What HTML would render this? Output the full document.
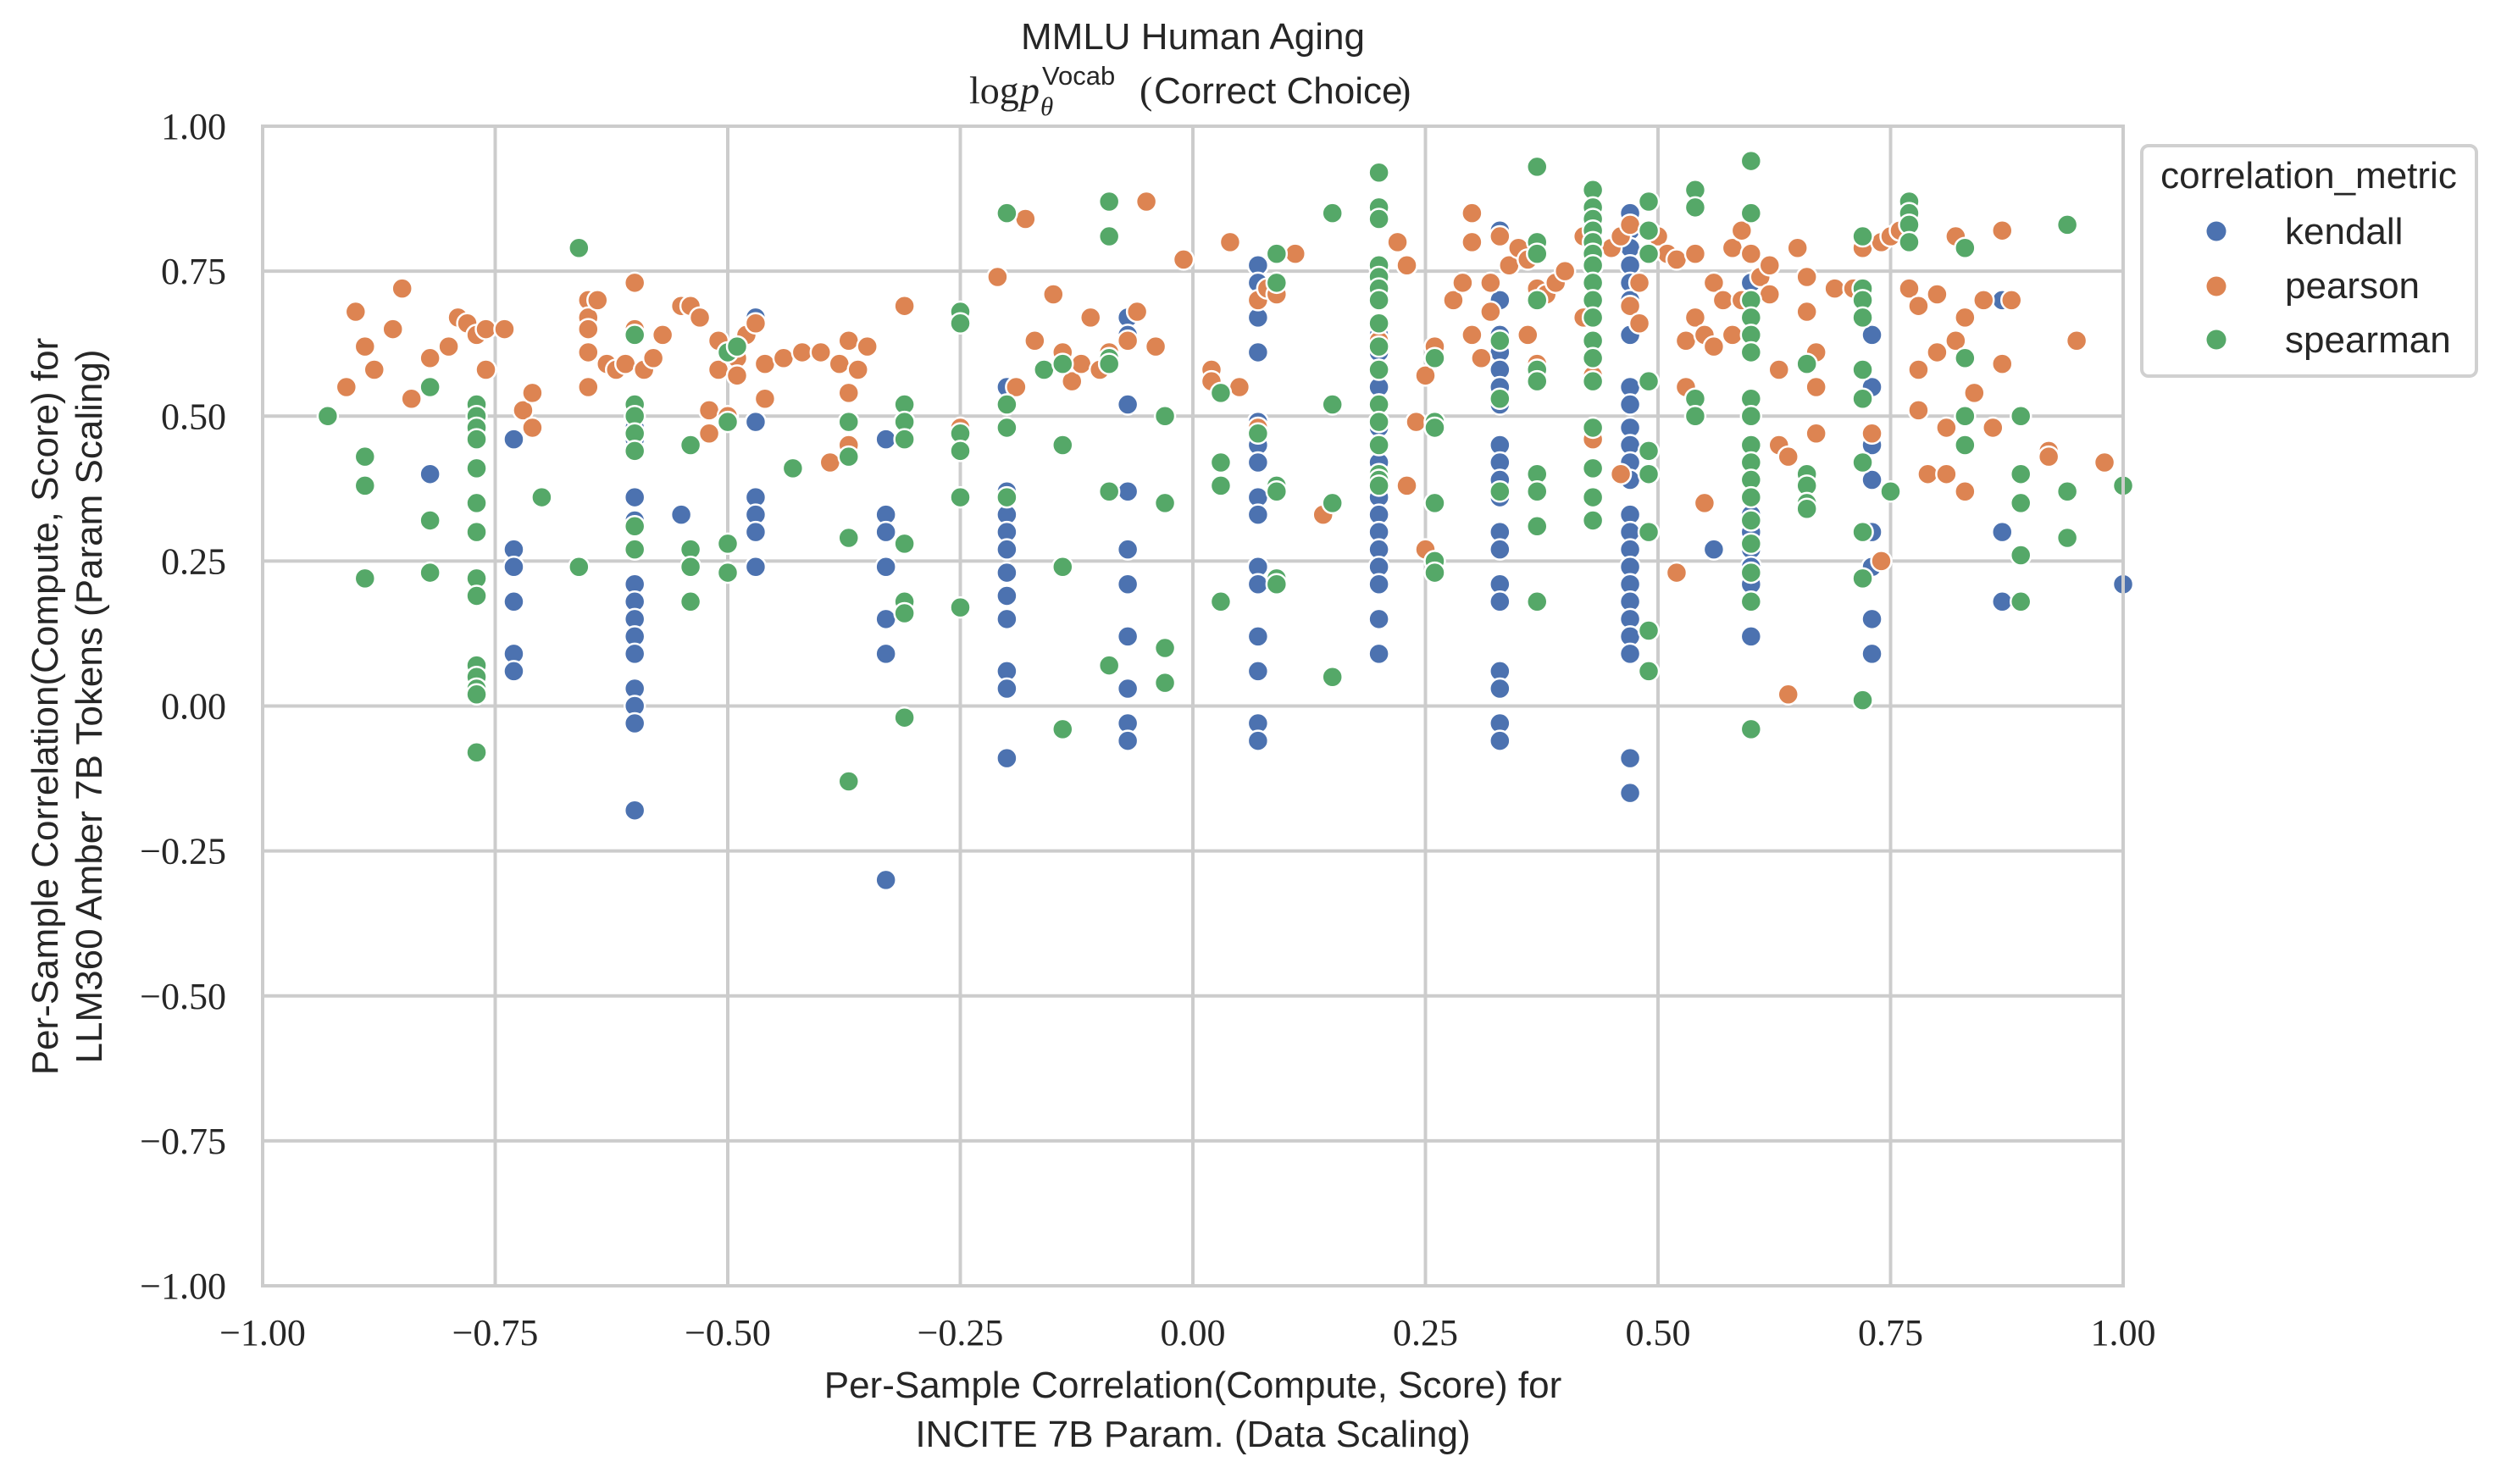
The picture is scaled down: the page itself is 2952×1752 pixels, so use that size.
<!DOCTYPE html>
<html><head><meta charset="utf-8"><style>
html,body{margin:0;padding:0;background:#fff;width:2952px;height:1752px;overflow:hidden}
svg{display:block}
.tick{font-family:"Liberation Serif",serif;font-size:44px;fill:#262626}
.lab{font-family:"Liberation Sans",sans-serif;font-size:44px;fill:#262626}
</style></head><body>
<svg id="chart" width="2952" height="1752" xmlns="http://www.w3.org/2000/svg">
<g id="grid"></g>
<g id="marks"></g>
<g id="axes"></g>
<text class="lab" x="1408" y="58" text-anchor="middle">MMLU Human Aging</text>
<g style="fill:#262626">
<text x="1144" y="122" style="font-family:'Liberation Serif',serif;font-size:46px">log</text>
<text x="1204" y="122" style="font-family:'Liberation Serif',serif;font-style:italic;font-size:46px">p</text>
<text x="1230" y="100" style="font-family:'Liberation Sans',sans-serif;font-size:31px">Vocab</text>
<text x="1228" y="136" style="font-family:'Liberation Serif',serif;font-style:italic;font-size:31px">θ</text>
<text x="1345" y="122" style="font-family:'Liberation Serif',serif;font-size:46px">(</text>
<text x="1362" y="122" style="font-family:'Liberation Sans',sans-serif;font-size:44px">Correct Choice</text>
<text x="1650" y="122" style="font-family:'Liberation Serif',serif;font-size:46px">)</text>
</g>
<text class="lab" x="1408" y="1650" text-anchor="middle">Per-Sample Correlation(Compute, Score) for</text>
<text class="lab" x="1408" y="1708" text-anchor="middle">INCITE 7B Param. (Data Scaling)</text>
<text class="lab" transform="translate(68,834) rotate(-90)" text-anchor="middle">Per-Sample Correlation(Compute, Score) for</text>
<text class="lab" transform="translate(120,834) rotate(-90)" text-anchor="middle">LLM360 Amber 7B Tokens (Param Scaling)</text>
<g>
<rect x="2528" y="172" width="395" height="272" rx="8" fill="#fff" stroke="#d0d0d0" stroke-width="4"/>
<text class="lab" x="2725" y="222" text-anchor="middle">correlation_metric</text>
<circle cx="2616" cy="273" r="11.5" fill="#4c72b0"/>
<text class="lab" x="2697" y="288">kendall</text>
<circle cx="2616" cy="338" r="11.5" fill="#dd8452"/>
<text class="lab" x="2697" y="352">pearson</text>
<circle cx="2616" cy="401" r="11.5" fill="#55a868"/>
<text class="lab" x="2697" y="416">spearman</text>
</g>
</svg>
<script>
const xTicks=[-1,-0.75,-0.5,-0.25,0,0.25,0.5,0.75,1];
const yTicks=[-1,-0.75,-0.5,-0.25,0,0.25,0.5,0.75,1];
const kendall=[[-0.82,0.40],[-0.73,0.46],[-0.73,0.27],[-0.73,0.24],[-0.73,0.18],[-0.73,0.09],[-0.73,0.06],
[-0.60,0.48],[-0.60,0.46],[-0.60,0.44],[-0.60,0.36],[-0.60,0.32],[-0.60,0.27],[-0.60,0.21],[-0.60,0.18],[-0.60,0.15],[-0.60,0.12],[-0.60,0.09],[-0.60,0.03],[-0.60,0.00],[-0.60,-0.03],[-0.60,-0.18],
[-0.55,0.33],[-0.47,0.67],[-0.47,0.49],[-0.47,0.36],[-0.47,0.33],[-0.47,0.30],[-0.47,0.24],
[-0.33,0.46],[-0.33,0.33],[-0.33,0.30],[-0.33,0.24],[-0.33,0.15],[-0.33,0.09],[-0.33,-0.30],
[-0.20,0.55],[-0.20,0.52],[-0.20,0.37],[-0.20,0.33],[-0.20,0.30],[-0.20,0.27],[-0.20,0.23],[-0.20,0.19],[-0.20,0.15],[-0.20,0.06],[-0.20,0.03],[-0.20,-0.09],
[-0.07,0.67],[-0.07,0.64],[-0.07,0.52],[-0.07,0.37],[-0.07,0.27],[-0.07,0.21],[-0.07,0.12],[-0.07,0.03],[-0.07,-0.03],[-0.07,-0.06],
[0.07,0.76],[0.07,0.73],[0.07,0.67],[0.07,0.61],[0.07,0.49],[0.07,0.45],[0.07,0.42],[0.07,0.36],[0.07,0.33],[0.07,0.24],[0.07,0.21],[0.07,0.12],[0.07,0.06],[0.07,-0.03],[0.07,-0.06],
[0.20,0.64],[0.20,0.61],[0.20,0.58],[0.20,0.55],[0.20,0.52],[0.20,0.48],[0.20,0.45],[0.20,0.42],[0.20,0.39],[0.20,0.36],[0.20,0.33],[0.20,0.30],[0.20,0.27],[0.20,0.24],[0.20,0.21],[0.20,0.15],[0.20,0.09],
[0.33,0.82],[0.33,0.70],[0.33,0.64],[0.33,0.61],[0.33,0.58],[0.33,0.55],[0.33,0.52],[0.33,0.45],[0.33,0.42],[0.33,0.39],[0.33,0.36],[0.33,0.30],[0.33,0.27],[0.33,0.21],[0.33,0.18],[0.33,0.06],[0.33,0.03],[0.33,-0.03],[0.33,-0.06],
[0.43,0.79],[0.43,0.73],[0.43,0.67],
[0.47,0.85],[0.47,0.82],[0.47,0.79],[0.47,0.76],[0.47,0.73],[0.47,0.70],[0.47,0.64],[0.47,0.55],[0.47,0.52],[0.47,0.48],[0.47,0.45],[0.47,0.42],[0.47,0.39],[0.47,0.33],[0.47,0.30],[0.47,0.27],[0.47,0.24],[0.47,0.21],[0.47,0.18],[0.47,0.15],[0.47,0.12],[0.47,0.09],[0.47,-0.09],[0.47,-0.15],
[0.56,0.27],
[0.60,0.73],[0.60,0.70],[0.60,0.64],[0.60,0.45],[0.60,0.42],[0.60,0.36],[0.60,0.33],[0.60,0.30],[0.60,0.27],[0.60,0.24],[0.60,0.21],[0.60,0.12],
[0.73,0.64],[0.73,0.55],[0.73,0.45],[0.73,0.39],[0.73,0.30],[0.73,0.24],[0.73,0.15],[0.73,0.09],
[0.87,0.70],[0.87,0.30],[0.87,0.18],[1.00,0.21]];
const pearson=[[-0.91,0.55],[-0.90,0.68],[-0.89,0.62],[-0.88,0.58],[-0.86,0.65],[-0.85,0.72],[-0.84,0.53],[-0.82,0.60],[-0.80,0.62],[-0.79,0.67],[-0.78,0.66],[-0.77,0.64],[-0.76,0.58],[-0.76,0.65],[-0.74,0.65],[-0.72,0.51],[-0.71,0.54],[-0.71,0.48],
[-0.65,0.70],[-0.65,0.67],[-0.65,0.65],[-0.65,0.61],[-0.65,0.55],[-0.64,0.70],[-0.63,0.59],[-0.62,0.58],[-0.61,0.59],[-0.60,0.65],[-0.60,0.73],[-0.59,0.58],[-0.58,0.60],[-0.57,0.64],[-0.55,0.69],[-0.54,0.69],[-0.53,0.67],[-0.52,0.47],[-0.52,0.51],[-0.51,0.63],[-0.51,0.58],[-0.50,0.50],[-0.49,0.60],[-0.49,0.57],[-0.48,0.64],[-0.47,0.66],[-0.46,0.59],[-0.46,0.53],[-0.44,0.60],[-0.42,0.61],[-0.40,0.61],[-0.39,0.42],[-0.38,0.59],[-0.37,0.63],[-0.37,0.54],[-0.36,0.58],[-0.35,0.62],[-0.37,0.45],[-0.31,0.69],[-0.25,0.48],
[-0.21,0.74],[-0.19,0.55],[-0.18,0.84],[-0.17,0.63],[-0.15,0.71],[-0.14,0.61],[-0.13,0.56],[-0.12,0.59],[-0.11,0.67],[-0.10,0.58],[-0.09,0.61],[-0.07,0.63],[-0.06,0.68],[-0.04,0.62],[-0.05,0.87],[-0.01,0.77],[0.02,0.58],[0.02,0.56],[0.04,0.80],[0.05,0.55],[0.07,0.70],[0.07,0.48],[0.08,0.72],[0.09,0.71],[0.11,0.78],[0.14,0.33],[0.20,0.76],[0.20,0.63],[0.22,0.80],[0.23,0.76],[0.24,0.49],[0.25,0.57],[0.23,0.38],[0.25,0.27],[0.26,0.62],
[0.28,0.70],[0.29,0.73],[0.30,0.85],[0.30,0.80],[0.30,0.64],[0.31,0.60],[0.32,0.73],[0.32,0.68],[0.33,0.81],[0.34,0.76],[0.35,0.79],[0.36,0.64],[0.36,0.77],[0.37,0.72],[0.37,0.59],[0.38,0.71],[0.39,0.73],[0.40,0.75],[0.42,0.67],[0.42,0.81],[0.43,0.57],[0.43,0.46],[0.45,0.79],[0.46,0.81],[0.47,0.69],[0.47,0.83],[0.48,0.73],[0.48,0.66],[0.46,0.40],[0.50,0.81],[0.51,0.78],[0.52,0.77],[0.52,0.23],[0.53,0.55],[0.53,0.63],[0.54,0.67],[0.54,0.78],[0.55,0.64],[0.55,0.35],[0.56,0.73],[0.56,0.62],[0.57,0.70],[0.58,0.79],[0.58,0.64],[0.59,0.82],[0.59,0.70],[0.60,0.78],[0.61,0.74],[0.62,0.76],[0.62,0.71],[0.63,0.58],[0.63,0.45],[0.64,0.43],[0.64,0.02],[0.65,0.79],[0.66,0.74],[0.66,0.68],[0.67,0.55],[0.67,0.47],[0.67,0.61],[0.69,0.72],[0.71,0.72],[0.72,0.79],[0.73,0.47],[0.74,0.80],[0.74,0.25],[0.75,0.81],[0.76,0.82],[0.77,0.72],[0.78,0.58],[0.78,0.69],[0.78,0.51],[0.79,0.40],[0.80,0.71],[0.80,0.61],[0.81,0.40],[0.81,0.48],[0.82,0.63],[0.82,0.81],[0.83,0.37],[0.83,0.67],[0.84,0.54],[0.85,0.70],[0.86,0.48],[0.87,0.59],[0.87,0.82],[0.88,0.70],[0.92,0.44],[0.92,0.43],[0.95,0.63],[0.98,0.42]];
const spearman=[[-0.93,0.50],[-0.89,0.43],[-0.89,0.38],[-0.89,0.22],[-0.82,0.55],[-0.82,0.32],[-0.82,0.23],[-0.66,0.79],[-0.66,0.24],
[-0.77,0.52],[-0.77,0.50],[-0.77,0.48],[-0.77,0.46],[-0.77,0.41],[-0.77,0.35],[-0.77,0.30],[-0.77,0.22],[-0.77,0.19],[-0.77,0.07],[-0.77,0.05],[-0.77,0.03],[-0.77,0.02],[-0.77,-0.08],[-0.70,0.36],
[-0.60,0.64],[-0.60,0.52],[-0.60,0.50],[-0.60,0.47],[-0.60,0.44],[-0.60,0.31],[-0.60,0.27],
[-0.54,0.45],[-0.54,0.27],[-0.54,0.24],[-0.54,0.18],[-0.50,0.61],[-0.50,0.49],[-0.50,0.28],[-0.50,0.23],[-0.49,0.62],[-0.43,0.41],
[-0.37,0.49],[-0.37,0.43],[-0.37,0.29],[-0.37,-0.13],
[-0.31,0.52],[-0.31,0.49],[-0.31,0.46],[-0.31,0.28],[-0.31,0.18],[-0.31,0.16],[-0.31,-0.02],
[-0.25,0.68],[-0.25,0.66],[-0.25,0.47],[-0.25,0.44],[-0.25,0.36],[-0.25,0.17],
[-0.20,0.85],[-0.20,0.52],[-0.20,0.48],[-0.20,0.36],[-0.14,0.45],[-0.14,0.24],[-0.14,-0.04],[-0.16,0.58],[-0.14,0.59],
[-0.09,0.87],[-0.09,0.81],[-0.09,0.60],[-0.09,0.59],[-0.09,0.37],[-0.09,0.07],
[-0.03,0.50],[-0.03,0.35],[-0.03,0.10],[-0.03,0.04],[0.03,0.54],[0.03,0.42],[0.03,0.38],[0.03,0.18],[0.07,0.47],
[0.09,0.78],[0.09,0.73],[0.09,0.38],[0.09,0.37],[0.09,0.22],[0.09,0.21],[0.15,0.85],[0.15,0.52],[0.15,0.35],[0.15,0.05],
[0.20,0.92],[0.20,0.86],[0.20,0.84],[0.20,0.76],[0.20,0.74],[0.20,0.72],[0.20,0.70],[0.20,0.66],[0.20,0.62],[0.20,0.58],[0.20,0.52],[0.20,0.49],[0.20,0.45],[0.20,0.40],[0.20,0.39],[0.20,0.38],
[0.26,0.60],[0.26,0.49],[0.26,0.48],[0.26,0.35],[0.26,0.25],[0.26,0.23],[0.33,0.63],[0.33,0.53],[0.33,0.37],
[0.37,0.93],[0.37,0.80],[0.37,0.78],[0.37,0.70],[0.37,0.58],[0.37,0.56],[0.37,0.40],[0.37,0.37],[0.37,0.31],[0.37,0.18],
[0.43,0.89],[0.43,0.86],[0.43,0.84],[0.43,0.82],[0.43,0.80],[0.43,0.78],[0.43,0.76],[0.43,0.73],[0.43,0.70],[0.43,0.67],[0.43,0.63],[0.43,0.60],[0.43,0.56],[0.43,0.48],[0.43,0.41],[0.43,0.36],[0.43,0.32],
[0.49,0.87],[0.49,0.82],[0.49,0.78],[0.49,0.56],[0.49,0.44],[0.49,0.40],[0.49,0.30],[0.49,0.13],[0.49,0.06],
[0.54,0.89],[0.54,0.86],[0.54,0.53],[0.54,0.50],
[0.60,0.94],[0.60,0.85],[0.60,0.70],[0.60,0.67],[0.60,0.64],[0.60,0.61],[0.60,0.53],[0.60,0.50],[0.60,0.45],[0.60,0.42],[0.60,0.39],[0.60,0.36],[0.60,0.32],[0.60,0.28],[0.60,0.23],[0.60,0.18],[0.60,-0.04],
[0.66,0.59],[0.66,0.40],[0.66,0.38],[0.66,0.35],[0.66,0.34],
[0.72,0.81],[0.72,0.72],[0.72,0.70],[0.72,0.67],[0.72,0.58],[0.72,0.53],[0.72,0.42],[0.72,0.30],[0.72,0.22],[0.72,0.01],[0.75,0.37],
[0.77,0.87],[0.77,0.85],[0.77,0.83],[0.77,0.80],[0.83,0.79],[0.83,0.60],[0.83,0.50],[0.83,0.45],
[0.89,0.50],[0.89,0.40],[0.89,0.35],[0.89,0.26],[0.89,0.18],[0.94,0.83],[0.94,0.37],[0.94,0.29],[1.00,0.38]];
const X0=310,X1=2506,Y0=149,Y1=1518;
const sx=v=>X0+(v+1)/2*(X1-X0);
const sy=v=>Y1-(v+1)/2*(Y1-Y0);
const NS='http://www.w3.org/2000/svg';
const grid=document.getElementById('grid'),axes=document.getElementById('axes'),marks=document.getElementById('marks');
function mk(tag,attrs,parent){const e=document.createElementNS(NS,tag);for(const k in attrs)e.setAttribute(k,attrs[k]);parent.appendChild(e);return e;}
const fmt=v=>(v<0?'\u2212':'')+Math.abs(v).toFixed(2);
xTicks.forEach(t=>{
 const l=mk('line',{x1:sx(t),x2:sx(t),y1:Y0,y2:Y1,stroke:'#cccccc','stroke-width':4},grid);
 
 
 const tx=mk('text',{x:sx(t),y:1588,'text-anchor':'middle',class:'tick'},axes);
 tx.textContent=fmt(t);
 
 
});
yTicks.forEach(t=>{
 const l=mk('line',{x1:X0,x2:X1,y1:sy(t),y2:sy(t),stroke:'#cccccc','stroke-width':4},grid);
 
 
 const tx=mk('text',{x:267,y:sy(t)+15,'text-anchor':'end',class:'tick'},axes);
 tx.textContent=fmt(t);
 
 
});
const frame=mk('rect',{x:X0,y:Y0,width:X1-X0,height:Y1-Y0,fill:'none',stroke:'#cccccc','stroke-width':4},axes);


[[kendall,'#4c72b0','kendall'],[pearson,'#dd8452','pearson'],[spearman,'#55a868','spearman']].forEach(([d,c,n])=>{
 d.forEach(p=>{
  const e=mk('circle',{cx:sx(p[0]),cy:sy(p[1]),r:12,fill:c,stroke:'#fff','stroke-width':2.5},marks);
  
  
 });
});
</script>
</body></html>
